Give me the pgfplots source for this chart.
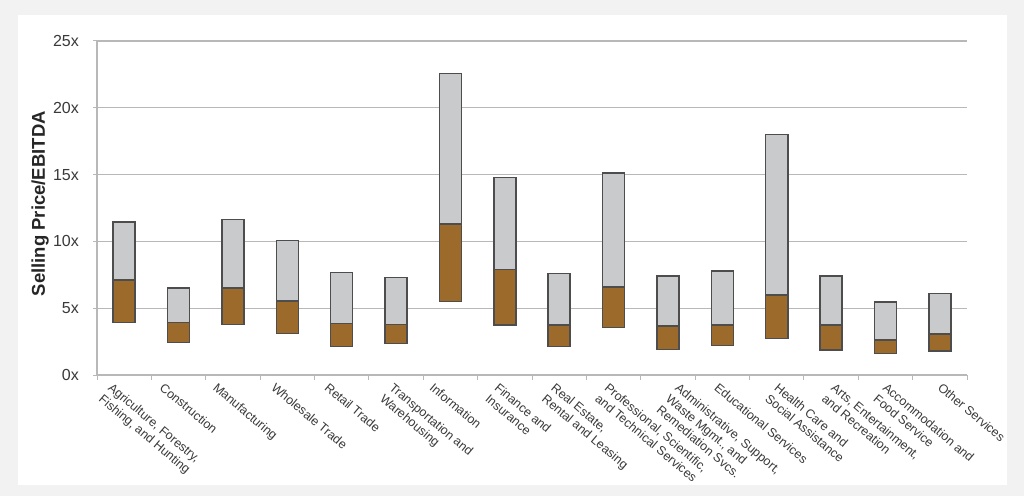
\documentclass[border=0pt]{standalone}
\usepackage{pgfplots}
\pgfplotsset{compat=1.18}
\usepackage{pgfplotstable}
\usepackage{fontspec}
\setmainfont{Liberation Sans}
\definecolor{bronze}{HTML}{9C6B2B}
\definecolor{lgray}{HTML}{C9CACC}
\definecolor{edgec}{HTML}{4D4D4D}
\definecolor{gridc}{HTML}{B8B8B8}
\definecolor{bgc}{HTML}{F2F2F2}
\definecolor{labc}{HTML}{3A3A3A}

\pgfplotstableread{
idx low med high
0  3.94 7.11 11.45
1  2.42 3.92 6.49
2  3.79 6.49 11.65
3  3.12 5.54 10.08
4  2.12 3.84 7.66
5  2.35 3.79 7.29
6  5.49 11.30 22.58
7  3.74 7.91 14.77
8  2.12 3.74 7.61
9  3.57 6.59 15.14
10 1.92 3.67 7.39
11 2.22 3.74 7.78
12 2.74 6.01 17.99
13 1.87 3.74 7.39
14 1.60 2.62 5.46
15 1.80 3.09 6.09
}\datatab

\begin{document}
\begin{tikzpicture}
\fill[bgc] (0,0) rectangle (1024pt,496pt);
\fill[white] (18pt,11pt) rectangle (1007pt,481pt);
\begin{axis}[
  at={(97pt,121pt)}, anchor=south west,
  scale only axis, width=870pt, height=334pt,
  xmin=-0.5, xmax=15.5, ymin=0, ymax=25,
  ybar stacked, bar width=22pt,
  axis lines*=left,
  axis line style={gridc, line width=1.3pt},
  ymajorgrids, major grid style={gridc, line width=1.2pt},
  ytick={0,5,...,25},
  yticklabels={0x,5x,10x,15x,20x,25x},
  tick align=outside,
  major tick length=4pt,
  minor tick length=5pt,
  tick style={gridc, line width=1pt},
  xtick={0,...,15},
  major x tick style={draw=none},
  minor xtick={-0.5,0.5,...,15.5},
  xticklabels={
    {Agriculture, Forestry,\\Fishing, and Hunting},
    {Construction},
    {Manufacturing},
    {Wholesale Trade},
    {Retail Trade},
    {Transportation and\\Warehousing},
    {Information},
    {Finance and\\Insurance},
    {Real Estate,\\Rental and Leasing},
    {Professional, Scientific,\\and Technical Services},
    {Administrative, Support,\\Waste Mgmt., and\\Remediation Svcs.},
    {Educational Services},
    {Health Care and\\Social Assistance},
    {Arts, Entertainment,\\and Recreation},
    {Accommodation and\\Food Service},
    {Other Services}},
  xticklabel style={xshift={{-11,-13.8,-14.8,-10.9,-12,-1.7,-15.8,-5.2,-2.9,-4,12.3,-2.8,2.8,5.1,2.4,3}[\ticknum]*1pt},
    yshift=-3pt, rotate=-40, anchor=north west, align=left, inner sep=0pt,
    font=\fontsize{12.5}{14.5}\selectfont, text=labc},
  yticklabel style={font=\fontsize{16}{16}\selectfont, text=labc, inner sep=0pt, xshift=-14pt, anchor=east},
  ylabel={Selling Price/EBITDA},
  every axis y label/.style={at={(axis description cs:-0.0655,0.513)}, rotate=90, anchor=center,
    font=\bfseries\fontsize{18.5}{18.5}\selectfont, text=black!85},
]
\addplot[draw=none, fill=none] table[x=idx, y=low]{\datatab};
\addplot[fill=bronze, draw=edgec, line width=1.6pt] table[x=idx, y expr=\thisrow{med}-\thisrow{low}]{\datatab};
\addplot[fill=lgray, draw=edgec, line width=1.6pt] table[x=idx, y expr=\thisrow{high}-\thisrow{med}]{\datatab};
\end{axis}
\end{tikzpicture}
\end{document}
